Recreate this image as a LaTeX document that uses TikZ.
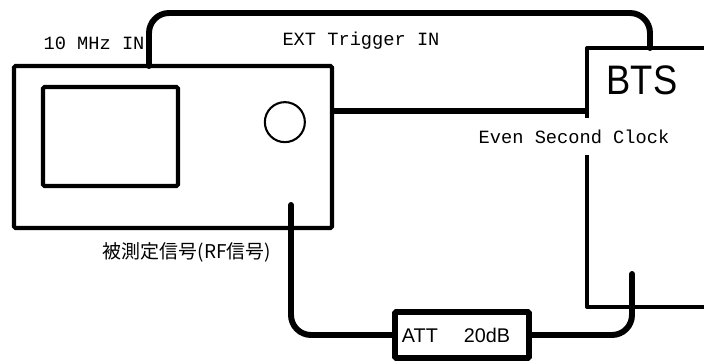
\documentclass[tikz,border=0pt]{standalone}
\usepackage{fontspec}
\setmainfont{Liberation Sans}
\newfontfamily\labelfont{Liberation Mono}
\newfontfamily\cjkfont{Noto Sans CJK JP}
\usetikzlibrary{positioning}
\tikzset{%
  smooth_block/.style={%
    draw=black,%
    rectangle,%
    rounded corners=1pt,%
    line width=2.9pt,%
    outer sep=0pt,%
    inner sep=0pt,%
    align=center,%
  },
  smooth_knob/.style={%
    draw=black,%
    circle,%
    line width=1.5pt,%
    minimum size=0.40in,%
    outer sep=0pt,%
    inner sep=0pt,%
  },
  cable_path/.style={%
    color=black,%
    line width=4.3pt,%
    line join=round,%
    line cap=round,%
    rounded corners=0.2in,%
  },
  housing_path/.style={%
    color=black,%
    line width=2.9pt,%
    line join=round,%
  },
  annotate/.style={%
    font={\labelfont\fontsize{13.5}{15}\selectfont},%
  },
}

\begin{document}
\begin{tikzpicture}[x=1in, y=1in]
    \useasboundingbox (0,0) rectangle (7.04,3.62);

    \node [smooth_block, minimum width=3.18in, minimum height=1.62in] (Analyzer) at (1.73,2.15) {};
    \node [smooth_block, minimum width=1.35in, minimum height=0.99in,
      below right = 0.21 and 0.29 of Analyzer.north west] (Screen) {};
    \node [smooth_knob, below left = 0.42 and 0.33 of Analyzer.north east] (Knob) {};
    \node [smooth_block, line width=4.3pt, minimum width=1.34in, minimum height=0.46in,
      font={\fontsize{14.3}{15}\selectfont}] (Attenuator) at (4.62,0.27)
      {ATT\hspace*{0.26in}20dB\hspace*{0.12in}};

    \coordinate (BTSTopEnd) at (7.04,3.14);
    \coordinate (BTSCorner) at (5.87,3.14);
    \coordinate (BTSFoot) at (5.87,0.55);
    \coordinate (BTSFootEnd) at (7.04,0.55);
    \draw [housing_path] (BTSTopEnd) -- (BTSCorner) -- (BTSFoot) -- (BTSFootEnd);
    \node [font={\fontsize{29.8}{32}\selectfont}] (BTS) at (6.42,2.82) {\scalebox{0.88}[1]{BTS}};

    \coordinate [right = 1.35 of Analyzer.north west] (RefPort);
    \coordinate (CableTop) at (3.50,3.49);
    \coordinate (TriggerPort) at (6.50,3.14);
    \coordinate [below = 0.45 of Analyzer.north east] (ClockOut);
    \coordinate (RFStart) at (2.91,1.57);
    \coordinate (BTSPort) at (6.32,0.88);

    \draw [cable_path]
      (RefPort)
      |-
      (CableTop)
      -|
      (TriggerPort);
    \draw [cable_path, line cap=butt]
      (ClockOut)
      --
      (ClockOut -| BTSCorner);
    \draw [cable_path]
      (RFStart)
      |-
      (Attenuator.west);
    \draw [cable_path]
      (Attenuator.east)
      -|
      (BTSPort);

    \node [annotate] (RefLabel) at (0.94,3.19) {10 MHz IN};
    \node [annotate] (TriggerLabel) at (3.61,3.21) {EXT Trigger IN};
    \node [annotate, fill=white, inner sep=0pt, minimum height=0.37in] (ClockLabel) at (5.74,2.25) {Even Second Clock};
    \node [font={\cjkfont\fontsize{13.7}{15}\selectfont}] (RFLabel) at (1.87,1.10) {被測定信号(RF信号)};
  \end{tikzpicture}
\end{document}
